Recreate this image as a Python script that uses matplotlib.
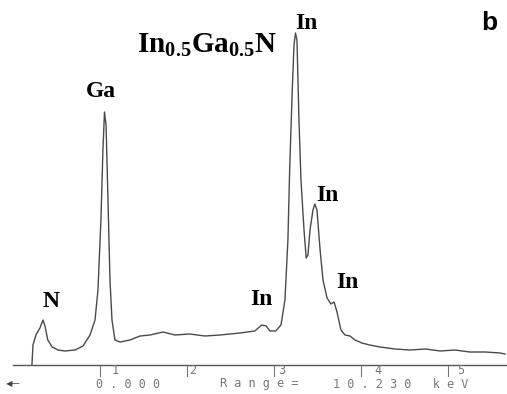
import matplotlib
matplotlib.use("Agg")
import matplotlib.pyplot as plt

plt.rcParams["mathtext.fontset"] = "custom"
plt.rcParams["mathtext.rm"] = "Liberation Serif"
plt.rcParams["mathtext.bf"] = "Liberation Serif:bold"

# EDX spectrum (energy in keV, counts in arbitrary units)
energy = [0.218, 0.23, 0.264, 0.31, 0.345, 0.368, 0.40, 0.45, 0.517, 0.598,
          0.713, 0.805, 0.885, 0.943, 0.977, 1.011, 1.034, 1.052, 1.07, 1.092,
          1.115, 1.138, 1.172, 1.23, 1.345, 1.46, 1.575, 1.724, 1.862, 2.03,
          2.207, 2.38, 2.61, 2.78, 2.86, 2.91, 2.954, 3.02, 3.08, 3.126,
          3.16, 3.18, 3.21, 3.23, 3.247, 3.264, 3.287, 3.31, 3.345, 3.37,
          3.39, 3.414, 3.448, 3.47, 3.494, 3.53, 3.563, 3.61, 3.655, 3.69,
          3.724, 3.77, 3.816, 3.874, 3.93, 4.01, 4.10, 4.22, 4.39, 4.56,
          4.74, 4.91, 5.08, 5.25, 5.43, 5.60, 5.655]
counts = [0, 20, 30, 37, 45, 39, 25, 18, 15, 14,
          15, 19, 30, 45, 75, 145, 215, 253, 240, 165,
          85, 45, 25, 23, 25, 29, 30, 33, 30, 31,
          29, 30, 32, 34, 40, 39, 34, 34, 40, 65,
          125, 195, 275, 320, 332, 325, 245, 185, 135, 107,
          110, 135, 155, 161, 155, 115, 85, 67, 61, 63,
          53, 35, 30, 29, 25, 22, 20, 18, 16, 15,
          16, 14, 15, 13, 13, 12, 11]

peak_labels = ["N", "Ga", "In", "In", "In", "In"]
peak_pos = [(0.437, 58), (1.01, 268), (3.368, 336), (3.61, 164), (3.845, 77), (2.856, 60)]

tick_keV = [1, 2, 3, 4, 5]
tick_digit_x = [1.17, 2.06, 3.09, 4.20, 5.15]

fig = plt.figure(figsize=(5.07, 3.94), dpi=100)
ax = fig.add_axes([0, 0, 1, 1])
ax.set_xlim(-0.149, 5.678)
ax.set_ylim(-29, 365)
ax.axis("off")

ax.plot(energy, counts, color="#4a4a4a", lw=1.0)
ax.plot([0, 5.678], [0, 0], color="#555555", lw=1.0)

for lab, (x, y) in zip(peak_labels, peak_pos):
    ax.text(x, y, lab, family="Liberation Serif", weight="bold", fontsize=17,
            ha="center", va="baseline")

ax.text(2.236, 313, r"In$_{\mathbf{0.5}}$Ga$_{\mathbf{0.5}}$N", family="Liberation Serif",
        weight="bold", fontsize=21, ha="center", va="baseline")
ax.text(5.48, 335, "b", family="Liberation Sans", weight="bold", fontsize=19,
        ha="center", va="baseline")

# instrument-style scale under the axis
mono = dict(family="DejaVu Sans Mono", fontsize=8.5, color="#777777", va="center")
for t, d in zip(tick_keV, tick_digit_x):
    ax.plot([t, t], [-1, -11], color="#777777", lw=0.8)
    ax.text(d, -6, str(t), ha="center", **mono)

ax.text(0.96, -19, "0 . 0 0 0", ha="left", **mono)
ax.text(2.38, -19, "R a n g e =", ha="left", **mono)
ax.text(3.68, -19, "1 0 . 2 3 0   k e V", ha="left", **mono)
ax.text(-0.08, -19, "\u25c0\u2014", family="DejaVu Sans", fontsize=6, color="#444444",
        ha="left", va="center")

fig.savefig("out.png", dpi=100)
